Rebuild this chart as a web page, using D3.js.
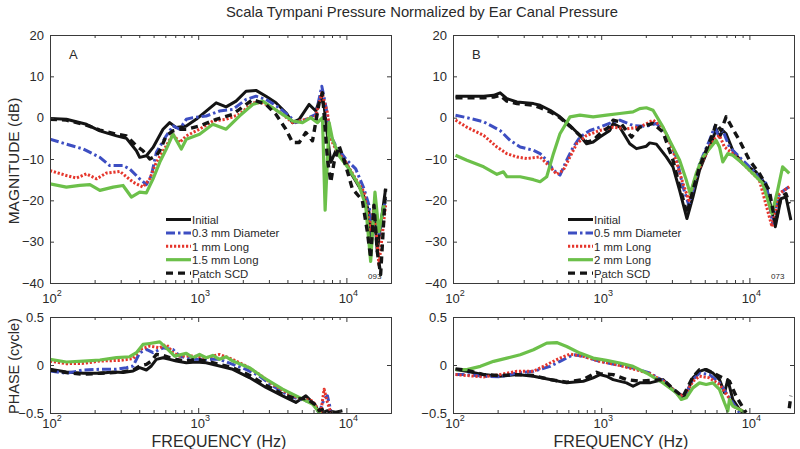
<!DOCTYPE html>
<html>
<head>
<meta charset="utf-8">
<script src="https://cdn.jsdelivr.net/npm/d3@7"></script>
<style>
body { margin: 0; background: #fff; }
text { font-family: "Liberation Sans", Arial, sans-serif; fill: #2a2a2a; }
.axis path, .axis line { stroke: #3a3a3a; }
</style>
</head>
<body>
<div id="chart"></div>
<script>
// DATA -- [frequency Hz, value]

// panel A magnitude (dB)
const magA_initial = [[100,-0.2],[129,-0.4],[176,-1.6],[217,-3.2],[281,-4.4],[328,-5.0],[383,-8.0],[403,-9.6],[447,-9.2],[496,-7.2],[579,-2.8],[642,-1.2],[711,-2.4],[831,-2.0],[969,-0.4],[1132,1.6],[1322,3.6],[1543,2.6],[1801,4.0],[2103,6.4],[2455,6.6],[2867,5.2],[3347,3.6],[3907,1.2],[4333,-1.2],[4804,-0.4],[5610,3.2],[6220,1.6],[6721,5.2],[7077,2.8],[7451,-4.4],[7846,-10.8],[8480,-8.0],[9399,-9.2],[10970,-14],[12810,-18],[14210,-22.8],[14580,-31.6],[15350,-21.2],[16160,-32.4],[17020,-26],[18390,-17.2]];
const magA_d03 = [[100,-5.2],[129,-6.4],[168,-7.6],[217,-9.6],[253,-11.6],[311,-11.6],[345,-12.4],[403,-14.8],[447,-16.2],[483,-14.0],[522,-8.4],[609,-4.4],[676,-2.0],[749,-2.8],[831,-0.4],[921,0],[1132,0.4],[1392,1.6],[1711,2.0],[2103,4.4],[2455,5.2],[2867,4.4],[3524,2.4],[4114,0.4],[4562,-1.2],[5328,-0.4],[6220,0.8],[6825,7.6],[7261,2.8],[7846,-4.4],[8480,-6.8],[9897,-10],[11560,-12.4],[13150,-17.2],[14210,-21.2],[14960,-28.4],[15750,-21.2],[16580,-28.4],[18390,-19.6]];
const magA_1mm = [[100,-12.8],[129,-14],[151,-14.6],[176,-13.6],[206,-14.8],[240,-13.4],[296,-13.0],[364,-15.6],[424,-16.8],[471,-14.8],[522,-10.8],[609,-6.8],[676,-4.0],[749,-6.0],[831,-4.4],[1021,-2.8],[1255,-0.8],[1543,-0.4],[1897,0.8],[2332,3.6],[2723,3.6],[3178,2.4],[3711,0.8],[4333,-1.2],[5328,-0.4],[6220,0.4],[6825,6.0],[7451,1.2],[7846,-5.2],[8480,-7.6],[9897,-10.8],[11560,-14.8],[13150,-18],[14580,-27.6],[15350,-21.2],[16580,-35.6],[18390,-21.2]];
const magA_15mm = [[100,-16],[129,-16.8],[159,-16.4],[186,-16.2],[217,-17.6],[267,-16.8],[311,-16.4],[354,-19.2],[403,-18],[447,-18.2],[496,-14.8],[550,-10.8],[609,-7.6],[676,-4.0],[769,-7.6],[831,-5.2],[1021,-4.0],[1255,-1.6],[1543,-2.8],[1897,0.4],[2332,3.2],[2723,4.0],[3178,2.4],[3711,0.8],[4333,-0.8],[5058,-1.2],[5756,0],[6382,-1.2],[6896,0],[7187,-22.4],[7645,-1.2],[8051,-5.2],[8927,-9.2],[10420,-12.4],[12170,-16.4],[13490,-21.2],[14580,-34.8],[15590,-18],[16580,-27.6],[17920,-21.2]];
const magA_patch = [[100,-0.4],[129,-0.6],[176,-1.8],[217,-3.0],[281,-4.0],[328,-4.4],[383,-6.8],[424,-8.0],[471,-10.0],[522,-9.2],[550,-8],[609,-4.4],[676,-3.2],[749,-2.8],[831,-2.8],[1021,-2.0],[1322,-0.4],[1711,0.8],[2332,4.4],[2867,3.2],[3347,0.8],[3907,-2.8],[4333,-6.0],[4804,-6.0],[5328,-3.6],[5907,-5.6],[6549,3.6],[6896,6.0],[7451,-10],[7846,-15.6],[8260,-10.8],[8927,-6.8],[9897,-11.6],[10970,-17.2],[12810,-20],[13850,-27.6],[14580,-34],[15350,-21.2],[16160,-32.4],[17020,-38],[18390,-17.2]];

// panel B magnitude (dB)
const magB_initial = [[104,5.2],[124,5.2],[161,5.2],[188,5.4],[208,6.0],[231,4.6],[270,3.8],[349,3.4],[387,3.0],[452,1.8],[527,0.2],[616,-1.9],[719,-4.3],[797,-6.3],[883,-5.9],[980,-4.7],[1144,-3.1],[1204,-1.4],[1335,-2.3],[1559,-6.3],[1729,-7.5],[2018,-6.9],[2125,-6.1],[2357,-6.4],[2751,-9.5],[3050,-11.9],[3382,-17.6],[3789,-24.4],[4157,-19.2],[4610,-12.7],[5111,-8.7],[5668,-5.1],[5968,-2.7],[6284,-4.7],[6617,-3.1],[6966,-3.9],[7726,-7.9],[9020,-11.1],[11090,-13.1],[12950,-16.3],[14960,-26.4],[16330,-19.6],[17650,-19.2],[19060,-24.8]];
const magB_d05 = [[104,0.6],[124,0],[161,-1.0],[208,-3.1],[243,-5.5],[284,-7.1],[349,-7.9],[387,-8.7],[429,-10.3],[476,-12.7],[527,-13.9],[585,-10.3],[648,-7.1],[719,-4.7],[839,-3.1],[980,-2.3],[1204,-1.0],[1335,-0.6],[1641,-1.9],[2018,-2.1],[2357,-1.4],[2751,-3.9],[3212,-9.5],[3562,-16.7],[3907,-21.2],[4157,-17.6],[4610,-11.1],[5382,-5.5],[5816,-2.3],[6124,-3.9],[6617,-3.1],[7337,-7.1],[8565,-9.5],[10530,-12.7],[12950,-15.9],[14350,-25.6],[15910,-18.4],[18580,-16.7]];
const magB_1mm = [[104,-0.6],[124,-2.3],[161,-4.3],[198,-7.1],[231,-8.7],[270,-9.5],[315,-9.9],[387,-9.5],[452,-11.9],[501,-13.7],[555,-12.7],[616,-9.5],[683,-6.3],[797,-4.3],[980,-3.1],[1204,-2.3],[1481,-2.7],[1820,-2.3],[2238,-0.6],[2612,-2.3],[3050,-7.9],[3562,-15.9],[3907,-20.0],[4266,-15.1],[4854,-10.3],[5668,-5.5],[6284,-4.3],[6790,-7.1],[7726,-8.7],[9497,-11.9],[11680,-15.1],[14210,-26.4],[15910,-18.4],[18580,-16.7]];
const magB_2mm = [[104,-9.1],[124,-10.3],[161,-11.9],[198,-13.7],[219,-13.1],[231,-14.3],[284,-14.3],[349,-15.0],[387,-15.5],[429,-14.3],[476,-8.7],[527,-3.9],[616,0.2],[719,0.6],[883,0.2],[1086,0.6],[1335,1.0],[1641,1.4],[1820,2.2],[2018,2.4],[2238,1.8],[2612,-2.3],[2896,-5.5],[3382,-10.3],[3750,-15.1],[3989,-18.4],[4378,-13.5],[4854,-9.5],[5382,-7.5],[5968,-5.5],[6284,-7.1],[6617,-10.7],[7150,-8.7],[7726,-9.1],[9020,-11.1],[10530,-13.5],[12290,-15.9],[14210,-23.2],[15510,-17.6],[16760,-11.9],[18580,-13.5]];
const magB_patch = [[104,4.8],[124,4.8],[161,4.8],[188,5.0],[208,5.4],[231,4.0],[270,3.4],[349,3.0],[387,2.4],[452,1.4],[527,0],[616,-2.1],[719,-4.3],[797,-5.9],[883,-5.5],[980,-3.9],[1144,-2.1],[1204,-0.6],[1335,-1.0],[1600,-4.7],[1820,-2.3],[2238,-1.4],[2612,-3.5],[3050,-10.3],[3389,-16.7],[3789,-23.2],[4157,-17.6],[4610,-11.9],[5111,-7.9],[5668,-3.9],[5968,-1.4],[6449,-3.1],[6966,0.2],[7726,-2.7],[8565,-5.5],[10000,-10.3],[11680,-13.5],[13630,-17.6],[14960,-25.6],[16330,-19.2],[17650,-18.4],[18580,-20.8]];

// panel A phase (cycle)
const phA_initial = [[100,-0.045],[129,-0.072],[168,-0.086],[217,-0.086],[267,-0.072],[311,-0.079],[364,-0.062],[403,-0.028],[447,-0.052],[483,-0.01],[522,0.059],[579,0.076],[642,0.059],[711,0.041],[831,0.024],[969,0.031],[1132,0.024],[1392,-0.01],[1711,-0.045],[2214,-0.131],[2867,-0.234],[3711,-0.321],[4562,-0.39],[5328,-0.321],[6220,-0.424],[6549,-0.51],[7451,-0.476],[8480,-0.493],[9399,-0.476]];
const phA_d03 = [[100,-0.062],[129,-0.086],[168,-0.052],[217,-0.045],[281,-0.045],[328,-0.028],[364,-0.01],[403,0.128],[447,0.162],[496,0.128],[579,0.179],[676,0.162],[749,0.093],[921,0.059],[1132,0.059],[1392,0.059],[1711,0.007],[2103,-0.045],[2586,-0.114],[3178,-0.217],[4114,-0.321],[4804,-0.355],[5907,-0.39],[6549,-0.493],[7077,-0.355],[7451,-0.321],[7846,-0.476]];
const phA_1mm = [[100,0.041],[129,0.014],[168,0.017],[217,0.041],[296,0.048],[364,0.066],[403,0.162],[471,0.197],[550,0.179],[609,0.214],[676,0.128],[749,0.093],[921,0.093],[1132,0.076],[1392,0.11],[1711,0.059],[2103,-0.01],[2586,-0.097],[3178,-0.2],[4114,-0.303],[4804,-0.348],[5907,-0.372],[6382,-0.459],[6721,-0.493],[7077,-0.252],[7451,-0.39],[7846,-0.493]];
const phA_15mm = [[100,0.059],[129,0.031],[168,0.041],[217,0.052],[281,0.076],[345,0.086],[383,0.128],[424,0.214],[471,0.224],[550,0.241],[609,0.179],[693,0.093],[831,0.121],[921,0.076],[1021,0.11],[1132,0.076],[1255,0.1],[1392,0.059],[1543,0.086],[1711,0.041],[2214,-0.028],[2867,-0.148],[3711,-0.252],[4804,-0.338],[5907,-0.407],[6549,-0.493],[6825,-0.53]];
const phA_patch = [[100,-0.052],[129,-0.079],[168,-0.097],[217,-0.086],[267,-0.079],[311,-0.072],[364,-0.052],[403,-0.01],[447,0.007],[483,0.041],[522,0.11],[579,0.1],[642,0.076],[711,0.059],[831,0.041],[969,0.059],[1132,0.041],[1392,0.007],[1711,-0.028],[2214,-0.107],[2867,-0.21],[3711,-0.303],[4562,-0.355],[5328,-0.348],[6220,-0.417],[6549,-0.476],[7077,-0.459],[7645,-0.51]];

// panel B phase (cycle)
const phB_initial = [[104,-0.048],[124,-0.066],[161,-0.1],[208,-0.117],[270,-0.1],[349,-0.117],[452,-0.152],[585,-0.186],[757,-0.169],[883,-0.134],[980,-0.1],[1086,-0.117],[1204,-0.152],[1481,-0.186],[1641,-0.221],[1820,-0.186],[2125,-0.186],[2612,-0.152],[3050,-0.255],[3562,-0.341],[3750,-0.307],[4157,-0.134],[4610,-0.066],[4982,-0.048],[5668,-0.083],[6284,-0.152],[6790,-0.29],[7150,-0.152],[7726,-0.359],[8565,-0.462],[9020,-0.497]];
const phB_d05 = [[104,-0.1],[124,-0.1],[161,-0.117],[208,-0.124],[270,-0.083],[349,-0.066],[452,-0.014],[527,0.038],[648,0.107],[757,0.09],[980,0.038],[1268,0.003],[1641,-0.031],[2125,-0.083],[2751,-0.186],[3382,-0.324],[3750,-0.29],[4157,-0.152],[4610,-0.083],[5382,-0.1],[6284,-0.186],[6966,-0.29],[7726,-0.393],[8565,-0.497]];
const phB_1mm = [[104,-0.1],[124,-0.11],[161,-0.124],[208,-0.1],[270,-0.066],[349,-0.066],[452,0.021],[527,0.072],[616,0.114],[757,0.09],[980,0.038],[1268,0.003],[1641,-0.041],[2125,-0.09],[2751,-0.186],[3382,-0.324],[3750,-0.29],[4157,-0.169],[4610,-0.117],[5382,-0.134],[6284,-0.203],[7150,-0.324],[7726,-0.428],[9020,-0.479]];
const phB_2mm = [[104,-0.048],[124,-0.048],[153,-0.014],[188,0.038],[231,0.072],[284,0.107],[349,0.159],[429,0.228],[501,0.234],[585,0.193],[719,0.124],[883,0.072],[1086,0.048],[1335,0.021],[1641,-0.014],[2018,-0.083],[2612,-0.186],[3212,-0.29],[3471,-0.359],[3750,-0.341],[4157,-0.238],[4610,-0.186],[5111,-0.203],[5668,-0.186],[6284,-0.255],[6790,-0.393],[7150,-0.479],[7337,-0.359],[7726,-0.428],[8565,-0.462],[9497,-0.497]];
const phB_patch = [[104,-0.041],[124,-0.055],[161,-0.1],[208,-0.11],[270,-0.1],[349,-0.11],[452,-0.152],[585,-0.179],[757,-0.152],[930,-0.076],[980,-0.09],[1204,-0.1],[1481,-0.152],[1820,-0.169],[2612,-0.152],[3050,-0.248],[3562,-0.331],[4157,-0.124],[4610,-0.048],[5111,-0.048],[5968,-0.1],[7337,-0.169],[8135,-0.324],[9497,-0.497],[17650,null],[18580,-0.45],[19060,-0.32]];

const legendA = ["Initial", "0.3 mm Diameter", "1 mm Long", "1.5 mm Long", "Patch SCD"];
const legendB = ["Initial", "0.5 mm Diameter", "1 mm Long", "2 mm Long", "Patch SCD"];

const xMajor = [100, 1000, 10000];
const magTicks = [20, 10, 0, -10, -20, -30, -40];
const phaseTicks = [0.5, 0, -0.5];

// LINE STYLES (plot order: initial, diameter, 1 mm, long, patch)
const styles = [
    {color: "#141414", dash: null,        width: 3},
    {color: "#3d4ec2", dash: "9,3,2.5,3", width: 3},
    {color: "#e5362c", dash: "2.2,1.8",   width: 3},
    {color: "#6cc04a", dash: null,        width: 3.2},
    {color: "#141414", dash: "7,5",       width: 3.4}
];

// SVG
const width = 800, height = 449;
const svg = d3.select("#chart").append("svg")
    .attr("width", width)
    .attr("height", height);

svg.append("text")
    .attr("x", 422)
    .attr("y", 17)
    .attr("text-anchor", "middle")
    .style("font-size", "14.8px")
    .text("Scala Tympani Pressure Normalized by Ear Canal Pressure");

const minorTicks = [];
xMajor.forEach(function(d) {
    for (let k = 2; k <= 9; k++) { if (d * k <= 20000) minorTicks.push(d * k); }
});

const panels = [
    {id: "mA", left: 50,  right: 391, top: 35,  bottom: 283, ydom: [-40, 20], yticks: magTicks,
     series: [magA_initial, magA_d03, magA_1mm, magA_15mm, magA_patch], label: "A", code: "093",
     legend: legendA, legX: 166, labBase: 20},
    {id: "mB", left: 453, right: 794, top: 35,  bottom: 283, ydom: [-40, 20], yticks: magTicks,
     series: [magB_initial, magB_d05, magB_1mm, magB_2mm, magB_patch], label: "B", code: "073",
     legend: legendB, legX: 568, labBase: 20},
    {id: "pA", left: 50,  right: 391, top: 317, bottom: 413, ydom: [-0.5, 0.5], yticks: phaseTicks,
     series: [phA_initial, phA_d03, phA_1mm, phA_15mm, phA_patch], labBase: 14.5},
    {id: "pB", left: 453, right: 794, top: 317, bottom: 413, ydom: [-0.5, 0.5], yticks: phaseTicks,
     series: [phB_initial, phB_d05, phB_1mm, phB_2mm, phB_patch], labBase: 14.5}
];

panels.forEach(function(p) {

    const xScale = d3.scaleLog().domain([100, 20000]).range([p.left, p.right]);
    const yScale = d3.scaleLinear().domain(p.ydom).range([p.bottom, p.top]);

    svg.append("clipPath").attr("id", "clip-" + p.id)
        .append("rect")
        .attr("x", p.left).attr("y", p.top)
        .attr("width", p.right - p.left).attr("height", p.bottom - p.top);

    // MARKS
    const line = d3.line()
        .defined(function(d) { return d[1] !== null; })
        .x(function(d) { return xScale(d[0]); })
        .y(function(d) { return yScale(d[1]); });

    const g = svg.append("g").attr("clip-path", "url(#clip-" + p.id + ")");
    p.series.forEach(function(s, i) {
        g.append("path")
            .datum(s)
            .attr("d", line)
            .attr("fill", "none")
            .attr("stroke", styles[i].color)
            .attr("stroke-width", styles[i].width)
            .attr("stroke-dasharray", styles[i].dash)
            .attr("stroke-linejoin", "round");
    });

    // AXES (ticks inside, MATLAB style)
    const allX = xMajor.concat(minorTicks);
    svg.append("g").attr("class", "axis")
        .attr("transform", `translate(0,${p.bottom})`)
        .call(d3.axisBottom(xScale).tickValues(allX).tickSize(-4).tickFormat(""))
        .selectAll(".tick line")
        .attr("y2", function(d) { return xMajor.includes(d) ? -5 : -3; });

    svg.append("g").attr("class", "axis")
        .attr("transform", `translate(0,${p.top})`)
        .call(d3.axisTop(xScale).tickValues(allX).tickSize(-4).tickFormat(""))
        .selectAll(".tick line")
        .attr("y2", function(d) { return xMajor.includes(d) ? 5 : 3; });

    const yAxis = svg.append("g").attr("class", "axis")
        .attr("transform", `translate(${p.left},0)`)
        .call(d3.axisLeft(yScale).tickValues(p.yticks).tickSize(-4).tickPadding(6)
            .tickFormat(d3.format("")));
    yAxis.selectAll("text").style("font-size", "13px").attr("fill", "#2a2a2a");

    svg.append("g").attr("class", "axis")
        .attr("transform", `translate(${p.right},0)`)
        .call(d3.axisRight(yScale).tickValues(p.yticks).tickSize(-4).tickFormat(""));

    svg.selectAll(".axis path.domain").attr("stroke-width", 1);

    // x tick labels 10^n
    xMajor.forEach(function(v) {
        const t = svg.append("text")
            .attr("x", xScale(v) + 2)
            .attr("y", p.bottom + p.labBase)
            .attr("text-anchor", "middle")
            .style("font-size", "13px");
        t.append("tspan").text("10");
        t.append("tspan").attr("dy", -7).style("font-size", "9px").text(String(Math.log10(v)));
    });

    if (p.label) {
        svg.append("text")
            .attr("x", p.left + 19)
            .attr("y", p.top + 24)
            .style("font-size", "13px")
            .text(p.label);

        svg.append("text")
            .attr("x", p.right - 23)
            .attr("y", p.bottom - 4)
            .style("font-size", "8px")
            .text(p.code);

        // LEGEND
        p.legend.forEach(function(name, i) {
            const ly = 219.5 + i * 13.4;
            svg.append("line")
                .attr("x1", p.legX).attr("x2", p.legX + 25)
                .attr("y1", ly).attr("y2", ly)
                .attr("stroke", styles[i].color)
                .attr("stroke-width", styles[i].width)
                .attr("stroke-dasharray", styles[i].dash);
            svg.append("text")
                .attr("x", p.legX + 26)
                .attr("y", ly + 4.5)
                .style("font-size", "11.4px")
                .text(name);
        });
    }
});

// AXIS LABELS
svg.append("text")
    .attr("transform", "translate(19,161)rotate(-90)")
    .attr("text-anchor", "middle")
    .style("font-size", "15.5px")
    .text("MAGNITUDE (dB)");

svg.append("text")
    .attr("transform", "translate(19,366)rotate(-90)")
    .attr("text-anchor", "middle")
    .style("font-size", "14.5px")
    .text("PHASE (cycle)");

[219, 621].forEach(function(cx) {
    svg.append("text")
        .attr("x", cx)
        .attr("y", 446.5)
        .attr("text-anchor", "middle")
        .style("font-size", "16px")
        .text("FREQUENCY (Hz)");
});
</script>
</body>
</html>
